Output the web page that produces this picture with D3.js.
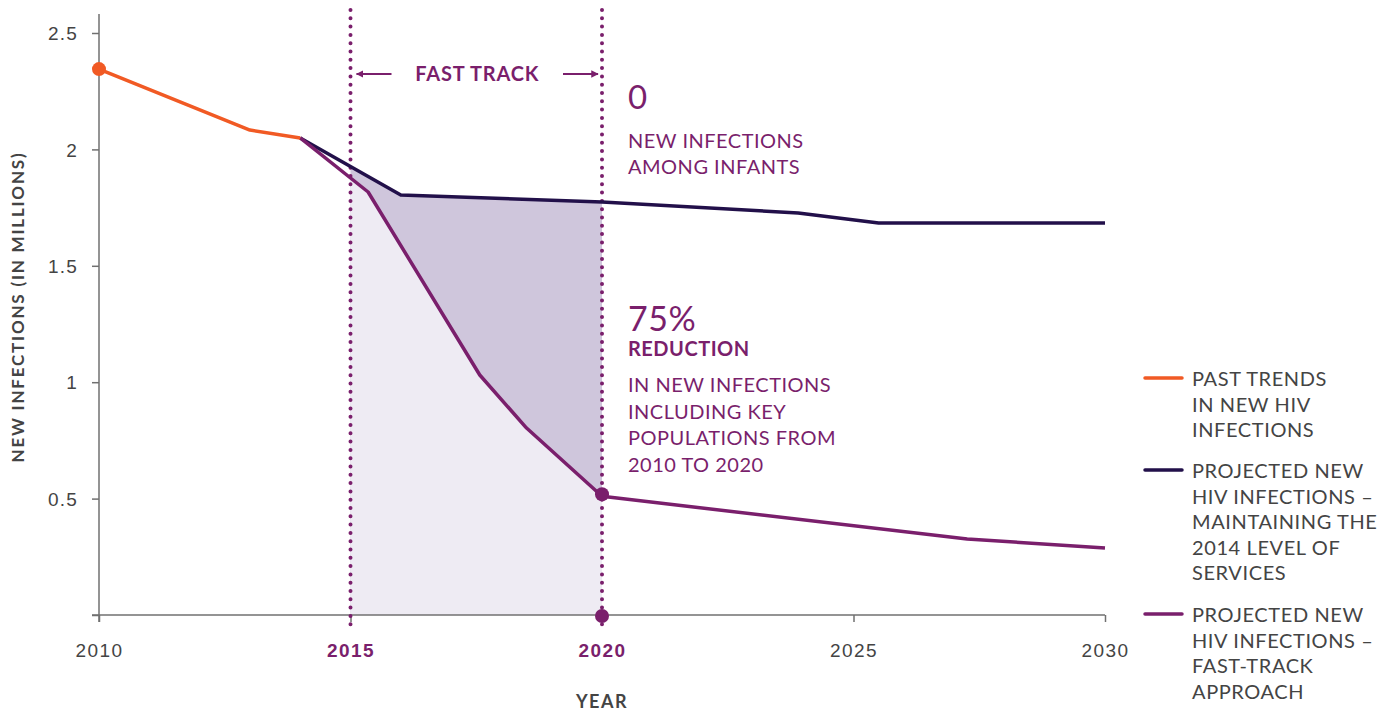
<!DOCTYPE html>
<html>
<head>
<meta charset="utf-8">
<script src="https://cdn.jsdelivr.net/npm/d3@7"></script>
<style>
  html, body { margin: 0; padding: 0; background: #ffffff; }
  svg { display: block; font-family: Lato, "Open Sans", sans-serif; }
</style>
</head>
<body>
<div id="chart"></div>
<script>
// ---------- data ----------
const pastYears      = [2010, 2013, 2014];
const pastValues     = [2.345, 2.083, 2.049];

const maintainYears  = [2014, 2016, 2020, 2023.9, 2025.5, 2030];
const maintainValues = [2.049, 1.804, 1.774, 1.727, 1.684, 1.684];

const fastYears      = [2014, 2015.35, 2017.57, 2018.5, 2020, 2027.26, 2030];
const fastValues     = [2.049, 1.817, 1.031, 0.803, 0.51, 0.326, 0.288];

const xTicks = [2010, 2015, 2020, 2025, 2030];
const xHighlightTicks = [2015, 2020];
const yTicks = [0, 0.5, 1, 1.5, 2, 2.5];
const yTickLabels = ["", "0.5", "1", "1.5", "2", "2.5"];

const fastTrackStart = 2015, fastTrackEnd = 2020;
const legendLabels = [
  ["PAST TRENDS", "IN NEW HIV", "INFECTIONS"],
  ["PROJECTED NEW", "HIV INFECTIONS –", "MAINTAINING THE", "2014 LEVEL OF", "SERVICES"],
  ["PROJECTED NEW", "HIV INFECTIONS –", "FAST-TRACK", "APPROACH"]
];

// ---------- styles ----------
const ORANGE = "#f15a24", NAVY = "#22104a", PURPLE = "#7a1f6c";
const DARKFILL = "#cfc6dc", LIGHTFILL = "#eeebf3", AXIS = "#707070", TXT = "#444444";

const W = 1389, H = 713;
const svg = d3.select("#chart").append("svg").attr("width", W).attr("height", H);

const x = d3.scaleLinear().domain([2010, 2030]).range([99, 1105]);
const y = d3.scaleLinear().domain([0, 2.5]).range([615, 33]);

const zip = (xs, ys) => xs.map((d, i) => ({ year: d, value: ys[i] }));
const past = zip(pastYears, pastValues);
const maintain = zip(maintainYears, maintainValues);
const fast = zip(fastYears, fastValues);

// clip for fast-track window
svg.append("clipPath").attr("id", "ftclip").append("rect")
  .attr("x", x(fastTrackStart)).attr("y", 0)
  .attr("width", x(fastTrackEnd) - x(fastTrackStart)).attr("height", y(0));

const area = d3.area().x(d => x(d.year)).y0(y(0)).y1(d => y(d.value));
svg.append("path").datum(maintain).attr("d", area).attr("fill", DARKFILL).attr("clip-path", "url(#ftclip)");
svg.append("path").datum(fast).attr("d", area).attr("fill", LIGHTFILL).attr("clip-path", "url(#ftclip)");

// ---------- axes ----------
const yAxis = d3.axisLeft(y).tickValues(yTicks).tickFormat((d, i) => yTickLabels[i])
  .tickSize(7).tickPadding(14).tickSizeOuter(0);
const gy = svg.append("g").attr("transform", `translate(${x(2010)},0)`).call(yAxis);
gy.select(".domain").remove();
gy.selectAll(".tick line").attr("stroke", AXIS).attr("stroke-width", 1.5);
gy.selectAll(".tick text").attr("fill", TXT).style("font-size", "19px")
  .style("letter-spacing", "1.2px").attr("dy", "0.35em");
svg.append("line").attr("x1", x(2010)).attr("x2", x(2010))
  .attr("y1", y(2.5) - 19).attr("y2", y(0) + 7).attr("stroke", AXIS).attr("stroke-width", 1.5);

const xAxis = d3.axisBottom(x).tickValues(xTicks).tickFormat(d3.format("d"))
  .tickSize(7).tickPadding(22).tickSizeOuter(0);
const gx = svg.append("g").attr("transform", `translate(0,${y(0)})`).call(xAxis);
gx.select(".domain").remove();
gx.selectAll(".tick line").attr("stroke", AXIS).attr("stroke-width", 1.5);
gx.selectAll(".tick text").style("font-size", "19px").style("letter-spacing", "1.4px")
  .attr("fill", d => xHighlightTicks.includes(d) ? PURPLE : TXT)
  .style("font-weight", d => xHighlightTicks.includes(d) ? "700" : "400");
svg.append("line").attr("x1", x(2010) - 7).attr("x2", x(2030))
  .attr("y1", y(0)).attr("y2", y(0)).attr("stroke", AXIS).attr("stroke-width", 1.5);

// axis titles
svg.append("text").attr("transform", `translate(24,${(y(0) + y(2.5)) / 2 - 17}) rotate(-90)`)
  .attr("text-anchor", "middle").attr("fill", TXT)
  .style("font-size", "17px").style("font-weight", "700").style("letter-spacing", "1.8px")
  .text("NEW INFECTIONS (IN MILLIONS)");
svg.append("text").attr("x", x(2020)).attr("y", 708).attr("text-anchor", "middle")
  .attr("fill", TXT).style("font-size", "18px").style("font-weight", "700").style("letter-spacing", "1.5px")
  .text("YEAR");

// ---------- dotted verticals ----------
[fastTrackStart, fastTrackEnd].forEach(yr => {
  svg.append("line").attr("x1", x(yr)).attr("x2", x(yr))
    .attr("y1", 10).attr("y2", y(0) + 16)
    .attr("stroke", PURPLE).attr("stroke-width", 4)
    .attr("stroke-linecap", "round").attr("stroke-dasharray", "0 8.3");
});

// ---------- lines ----------
const line = d3.line().x(d => x(d.year)).y(d => y(d.value));
svg.append("path").datum(maintain).attr("d", line).attr("fill", "none")
  .attr("stroke", NAVY).attr("stroke-width", 3.5).attr("stroke-linejoin", "round");
svg.append("path").datum(fast).attr("d", line).attr("fill", "none")
  .attr("stroke", PURPLE).attr("stroke-width", 3.5).attr("stroke-linejoin", "round");
svg.append("path").datum(past).attr("d", line).attr("fill", "none")
  .attr("stroke", ORANGE).attr("stroke-width", 3.5).attr("stroke-linejoin", "round");

// dots
svg.append("circle").attr("cx", x(past[0].year)).attr("cy", y(past[0].value)).attr("r", 7).attr("fill", ORANGE);
const ft2020 = fast.find(d => d.year === fastTrackEnd);
svg.append("circle").attr("cx", x(ft2020.year)).attr("cy", y(ft2020.value) - 2).attr("r", 7).attr("fill", PURPLE);
svg.append("circle").attr("cx", x(fastTrackEnd)).attr("cy", y(0) + 1).attr("r", 7).attr("fill", PURPLE);

// ---------- fast track label with arrows ----------
const defs = svg.append("defs");
defs.append("marker").attr("id", "arrow").attr("viewBox", "0 0 10 10")
  .attr("refX", 9).attr("refY", 5).attr("markerWidth", 3.4).attr("markerHeight", 3.4)
  .attr("markerUnits", "strokeWidth").attr("orient", "auto-start-reverse")
  .append("path").attr("d", "M0,0 L10,5 L0,10 z").attr("fill", PURPLE);
const arrowY = 74;
svg.append("line").attr("x1", x(fastTrackStart) + 41).attr("x2", x(fastTrackStart) + 6)
  .attr("y1", arrowY).attr("y2", arrowY).attr("stroke", PURPLE).attr("stroke-width", 2.2)
  .attr("marker-end", "url(#arrow)");
svg.append("line").attr("x1", x(fastTrackEnd) - 39).attr("x2", x(fastTrackEnd) - 4)
  .attr("y1", arrowY).attr("y2", arrowY).attr("stroke", PURPLE).attr("stroke-width", 2.2)
  .attr("marker-end", "url(#arrow)");
svg.append("text").attr("x", (x(fastTrackStart) + x(fastTrackEnd)) / 2 + 1).attr("y", arrowY + 7)
  .attr("text-anchor", "middle").attr("fill", PURPLE)
  .style("font-size", "20px").style("font-weight", "700").style("letter-spacing", "0.8px")
  .text("FAST TRACK");

// ---------- annotations ----------
const ax = x(fastTrackEnd) + 26;
const ann = svg.append("g").attr("fill", PURPLE).style("letter-spacing", "0.5px");
ann.append("text").attr("x", ax).attr("y", 109).style("font-size", "33px").text("0");
ann.append("text").attr("x", ax).attr("y", 148).style("font-size", "20px").text("NEW INFECTIONS");
ann.append("text").attr("x", ax).attr("y", 174).style("font-size", "20px").text("AMONG INFANTS");
ann.append("text").attr("x", ax).attr("y", 331).style("font-size", "34px").text("75%");
ann.append("text").attr("x", ax).attr("y", 356).style("font-size", "20px").style("font-weight", "700").text("REDUCTION");
["IN NEW INFECTIONS", "INCLUDING KEY", "POPULATIONS FROM", "2010 TO 2020"].forEach((t, i) => {
  ann.append("text").attr("x", ax).attr("y", 392 + i * 26.5).style("font-size", "20px").text(t);
});

// ---------- legend ----------
const legColors = [ORANGE, NAVY, PURPLE];
const legTops = [378, 470, 614];
legendLabels.forEach((lines, i) => {
  const g = svg.append("g").attr("transform", `translate(1145,${legTops[i]})`);
  g.append("line").attr("x1", 0).attr("x2", 37).attr("y1", 0).attr("y2", 0)
    .attr("stroke", legColors[i]).attr("stroke-width", 3.5).attr("stroke-linecap", "round");
  lines.forEach((t, j) => {
    g.append("text").attr("x", 47).attr("y", 8 + j * 25.5).attr("fill", TXT)
      .style("font-size", "20px").style("letter-spacing", "0.6px").text(t);
  });
});
</script>
</body>
</html>
